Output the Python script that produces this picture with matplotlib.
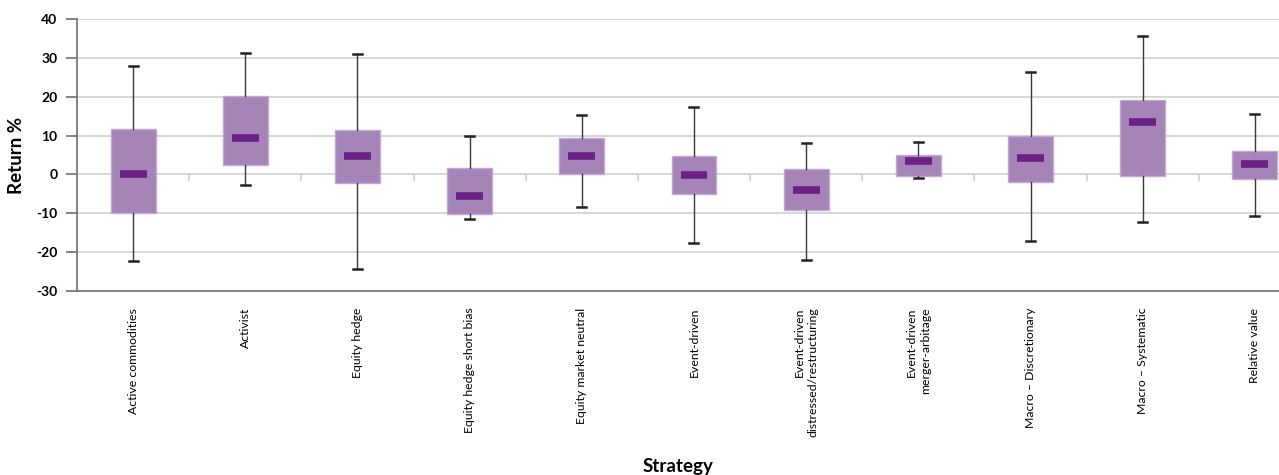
import numpy as np
import matplotlib
matplotlib.use("Agg")
import matplotlib.pyplot as plt


strategies = [
    "Active commodities", "Activist", "Equity hedge", "Equity hedge short bias",
    "Equity market neutral", "Event-driven", "Event-driven\ndistressed/restructuring",
    "Event-driven\nmerger-arbitage", "Macro \u2013 Discretionary", "Macro \u2013 Systematic",
    "Relative value",
]
whisker_low = [-22.4, -2.8, -24.3, -11.4, -8.5, -17.7, -21.9, -1.0, -17.1, -12.2, -10.6]
box_low = [-10.0, 2.5, -2.3, -10.1, 0.2, -5.1, -9.2, -0.5, -1.9, -0.5, -1.2]
median = [0.0, 9.4, 4.7, -5.5, 4.7, -0.2, -4.0, 3.5, 4.3, 13.4, 2.7]
box_high = [11.8, 20.3, 11.5, 1.7, 9.5, 4.8, 1.5, 5.1, 9.9, 19.1, 6.1]
whisker_high = [27.8, 31.2, 31.1, 9.8, 15.4, 17.3, 8.0, 8.4, 26.4, 35.5, 15.5]
y_ticks = [-30, -20, -10, 0, 10, 20, 30, 40]

BOX_COLOR = "#a584b8"
MEDIAN_COLOR = "#6b2185"
GRID_COLOR = "#cfcfcf"
AXIS_COLOR = "#6e6e6e"

plt.rcParams["font.family"] = ["Lato", "DejaVu Sans"]


def build_stats():
    stats = []
    for i, name in enumerate(strategies):
        stats.append({
            "label": name,
            "whislo": whisker_low[i],
            "q1": box_low[i],
            "med": median[i],
            "q3": box_high[i],
            "whishi": whisker_high[i],
        })
    return stats


def main():
    fig = plt.figure(figsize=(12.79, 4.75), dpi=100)
    # the original chart is cut off on the right, so the axes runs past the figure
    ax = fig.add_axes([0.0602, 0.3874, 0.9648, 0.5726])

    positions = np.arange(len(strategies))
    ax.set_xlim(-0.5, len(strategies) - 0.5)
    ax.set_ylim(-30, 40)

    for y in y_ticks[1:]:
        ax.axhline(y, color=GRID_COLOR, lw=1.2, zorder=0)

    # small ticks on the zero line between categories
    ax.vlines(positions[:-1] + 0.5, -1.8, 0, color=GRID_COLOR, lw=1.2, zorder=0)

    ax.bxp(build_stats(), positions=positions, widths=0.4, patch_artist=True,
           showfliers=False, manage_ticks=False,
           boxprops=dict(facecolor=BOX_COLOR, edgecolor="#c3a9d1", lw=1),
           whiskerprops=dict(color="#3a3a3a", lw=1),
           capprops=dict(color="#222222", lw=1.8),
           capwidths=0.08,
           medianprops=dict(visible=False))

    ax.hlines(median, positions - 0.12, positions + 0.12, color=MEDIAN_COLOR,
              lw=5.5, capstyle="butt", zorder=5)

    for side in ["top", "right"]:
        ax.spines[side].set_visible(False)
    ax.spines["left"].set_color(AXIS_COLOR)
    ax.spines["bottom"].set_color(AXIS_COLOR)
    ax.spines["left"].set_linewidth(1.2)
    ax.spines["bottom"].set_linewidth(1.2)

    ax.set_yticks(y_ticks)
    ax.set_yticklabels([str(v) for v in y_ticks], fontsize=10, fontweight="bold")
    ax.tick_params(axis="y", length=8, width=1.2, color=AXIS_COLOR, pad=6)

    ax.set_xticks(positions)
    ax.set_xticklabels(strategies, rotation=90, fontsize=8.8, va="top",
                       ha="center", multialignment="right", linespacing=1.3)
    ax.tick_params(axis="x", length=0, pad=12)

    ax.set_ylabel("Return %", fontsize=13.5, fontweight="bold", labelpad=8)
    fig.text(0.53, 0.0, "Strategy", ha="center", va="bottom", fontsize=13.5,
             fontweight="bold")

    fig.savefig("out.png", dpi=100)


if __name__ == "__main__":
    main()
